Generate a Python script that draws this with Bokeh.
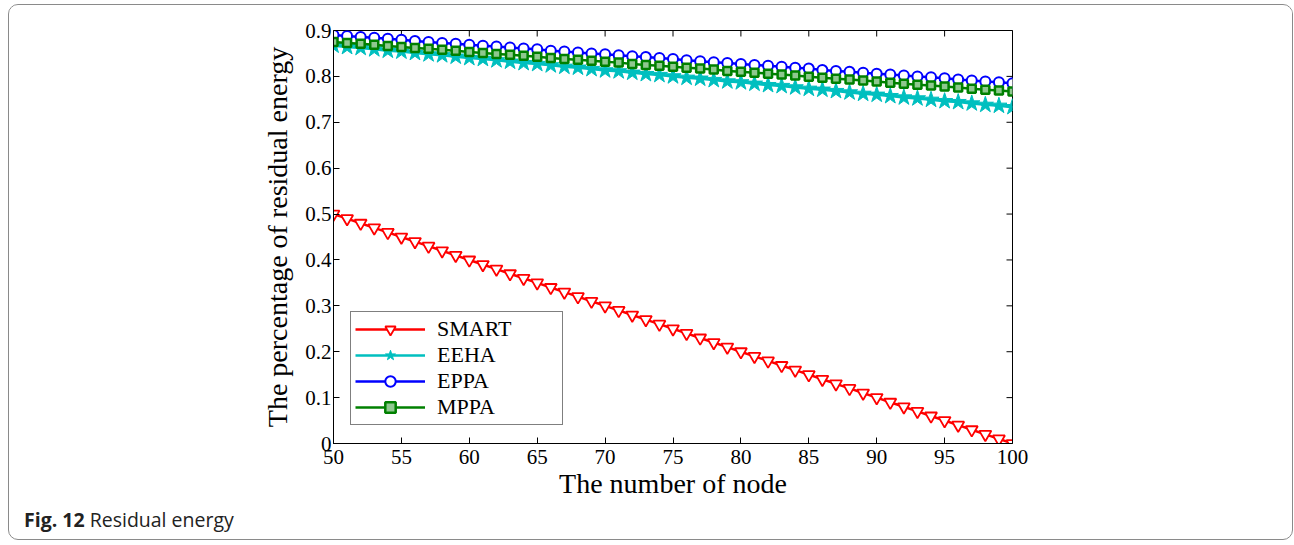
import math
from bokeh.plotting import figure
from bokeh.models import LinearAxis, FixedTicker, Legend, LegendItem, Range1d, Div
from bokeh.layouts import column
from bokeh.embed import file_html
from bokeh.resources import INLINE

# ---------------- data ----------------
nodes = list(range(50, 101))

smart = [0.50, 0.49, 0.48, 0.47, 0.46, 0.45, 0.44, 0.43, 0.42, 0.41,
         0.40, 0.39, 0.38, 0.37, 0.36, 0.35, 0.34, 0.33, 0.32, 0.31,
         0.30, 0.29, 0.28, 0.27, 0.26, 0.25, 0.24, 0.23, 0.22, 0.21,
         0.20, 0.19, 0.18, 0.17, 0.16, 0.15, 0.14, 0.13, 0.12, 0.11,
         0.10, 0.09, 0.08, 0.07, 0.06, 0.05, 0.04, 0.03, 0.02, 0.01,
         0.00]

eeha = [0.867, 0.864, 0.862, 0.859, 0.856, 0.854, 0.851, 0.848, 0.846, 0.843,
        0.840, 0.838, 0.835, 0.832, 0.829, 0.827, 0.824, 0.821, 0.819, 0.816,
        0.813, 0.811, 0.808, 0.805, 0.803, 0.800, 0.797, 0.795, 0.792, 0.789,
        0.787, 0.784, 0.781, 0.779, 0.776, 0.773, 0.771, 0.768, 0.765, 0.762,
        0.760, 0.757, 0.754, 0.752, 0.749, 0.746, 0.744, 0.741, 0.738, 0.736,
        0.733]

eppa = [0.890, 0.888, 0.886, 0.884, 0.882, 0.880, 0.877, 0.875, 0.873, 0.871,
        0.869, 0.867, 0.865, 0.863, 0.861, 0.859, 0.856, 0.854, 0.852, 0.850,
        0.848, 0.846, 0.844, 0.842, 0.840, 0.838, 0.835, 0.833, 0.831, 0.829,
        0.827, 0.825, 0.823, 0.821, 0.819, 0.817, 0.814, 0.812, 0.810, 0.808,
        0.806, 0.804, 0.802, 0.800, 0.798, 0.796, 0.793, 0.791, 0.789, 0.787,
        0.785]

mppa = [0.875, 0.873, 0.871, 0.869, 0.866, 0.864, 0.862, 0.860, 0.858, 0.856,
        0.853, 0.851, 0.849, 0.847, 0.845, 0.843, 0.840, 0.838, 0.836, 0.834,
        0.832, 0.830, 0.827, 0.825, 0.823, 0.821, 0.819, 0.817, 0.815, 0.812,
        0.810, 0.808, 0.806, 0.804, 0.802, 0.799, 0.797, 0.795, 0.793, 0.791,
        0.789, 0.786, 0.784, 0.782, 0.780, 0.778, 0.776, 0.773, 0.771, 0.769,
        0.767]

x_ticks = [50, 55, 60, 65, 70, 75, 80, 85, 90, 95, 100]
y_ticks = [0, 0.1, 0.2, 0.3, 0.4, 0.5, 0.6, 0.7, 0.8, 0.9]
y_tick_labels = ["0", "0.1", "0.2", "0.3", "0.4", "0.5", "0.6", "0.7", "0.8", "0.9"]

series_names = ["SMART", "EEHA", "EPPA", "MPPA"]
caption_bold = "Fig. 12"
caption_text = "Residual energy"
x_title = "The number of node"
y_title = "The percentage of residual energy"

# ---------------- figure ----------------
SERIF = "Liberation Serif"
W = 1283

p = figure(width=W, height=500, output_backend="svg", toolbar_location=None,
           x_range=Range1d(x_ticks[0], x_ticks[-1]), y_range=Range1d(y_ticks[0], y_ticks[-1]),
           min_border_left=324, min_border_right=280,
           min_border_top=25, min_border_bottom=62,
           x_axis_type=None, y_axis_type=None)
p.background_fill_color = "white"
p.border_fill_color = "white"
p.outline_line_color = "black"
p.outline_line_width = 1
p.xgrid.visible = False
p.ygrid.visible = False


def style_axis(ax, ticks):
    ax.ticker = FixedTicker(ticks=ticks)
    ax.major_tick_in = 6
    ax.major_tick_out = 0
    ax.minor_tick_line_color = None
    ax.axis_line_color = "black"
    ax.axis_line_width = 1
    ax.major_tick_line_color = "black"
    ax.major_label_text_font = SERIF
    ax.major_label_text_font_size = "21px"
    ax.major_label_text_color = "black"
    ax.axis_label_text_font = SERIF
    ax.axis_label_text_font_size = "28px"
    ax.axis_label_text_font_style = "normal"
    ax.axis_label_text_color = "black"


xb = LinearAxis(axis_label=x_title)
style_axis(xb, x_ticks)
xb.major_label_standoff = 6
xb.axis_label_standoff = 1
p.add_layout(xb, "below")

yl = LinearAxis(axis_label=y_title)
style_axis(yl, y_ticks)
yl.major_label_overrides = {t: s for t, s in zip(y_ticks, y_tick_labels)}
yl.major_label_standoff = 2
yl.axis_label_standoff = 9
p.add_layout(yl, "left")

# inward ticks on the top and right edges of the box (half of each dash is clipped)
top_y = [y_ticks[-1]] * len(x_ticks)
right_x = [x_ticks[-1]] * len(y_ticks)
p.scatter(x_ticks, top_y, marker="dash", angle=math.pi / 2, size=12,
          line_color="black", line_width=1)
p.scatter(right_x, y_ticks, marker="dash", size=12, line_color="black", line_width=1)

LW = 2.5
items = []

r1 = p.line(nodes, smart, line_color="#ff0000", line_width=LW)
m1 = p.scatter(nodes, smart, marker="inverted_triangle", size=12, line_color="#ff0000",
               line_width=1.8, fill_color="white")
items.append(LegendItem(label=series_names[0], renderers=[r1, m1]))

r2 = p.line(nodes, eeha, line_color="#00bfbf", line_width=LW)
m2 = p.scatter(nodes, eeha, marker="star", size=17, line_color="#00bfbf",
               line_width=1, fill_color="#00bfbf")
items.append(LegendItem(label=series_names[1], renderers=[r2, m2]))

r3 = p.line(nodes, eppa, line_color="#0000ff", line_width=LW)
m3 = p.scatter(nodes, eppa, marker="circle", size=10, line_color="#0000ff",
               line_width=2, fill_color="white")
items.append(LegendItem(label=series_names[2], renderers=[r3, m3]))

r4 = p.line(nodes, mppa, line_color="#008000", line_width=LW)
m4 = p.scatter(nodes, mppa, marker="square", size=8, line_color="#008000",
               line_width=2.5, fill_color="#8fc88f")
items.append(LegendItem(label=series_names[3], renderers=[r4, m4]))

legend = Legend(items=items, location=(17, 18), orientation="vertical",
                label_text_font=SERIF, label_text_font_size="22px",
                label_text_color="black",
                glyph_width=70, glyph_height=26, label_height=26, label_width=121,
                label_standoff=12, spacing=0, padding=4, margin=0,
                border_line_color="black", border_line_width=1,
                background_fill_color="white", background_fill_alpha=1)
p.add_layout(legend, "center")

caption = Div(
    text=('<div style="margin-left:10px; margin-top:0px; font-family:\'Open Sans\'; '
          'font-size:19.5px; line-height:20px; color:#222222; white-space:nowrap;">'
          '<b>' + caption_bold + '</b> ' + caption_text + '</div>'),
    width=W - 40, height=34)

page = column(p, caption, spacing=0, width=W, height=534, sizing_mode="fixed",
              styles={"border": "1px solid #8a8a8a", "border-radius": "10px",
                      "overflow": "hidden", "margin-left": "8px", "margin-top": "4px",
                      "background-color": "white", "box-sizing": "content-box"})

open("out.html", "w").write(file_html(page, INLINE))
